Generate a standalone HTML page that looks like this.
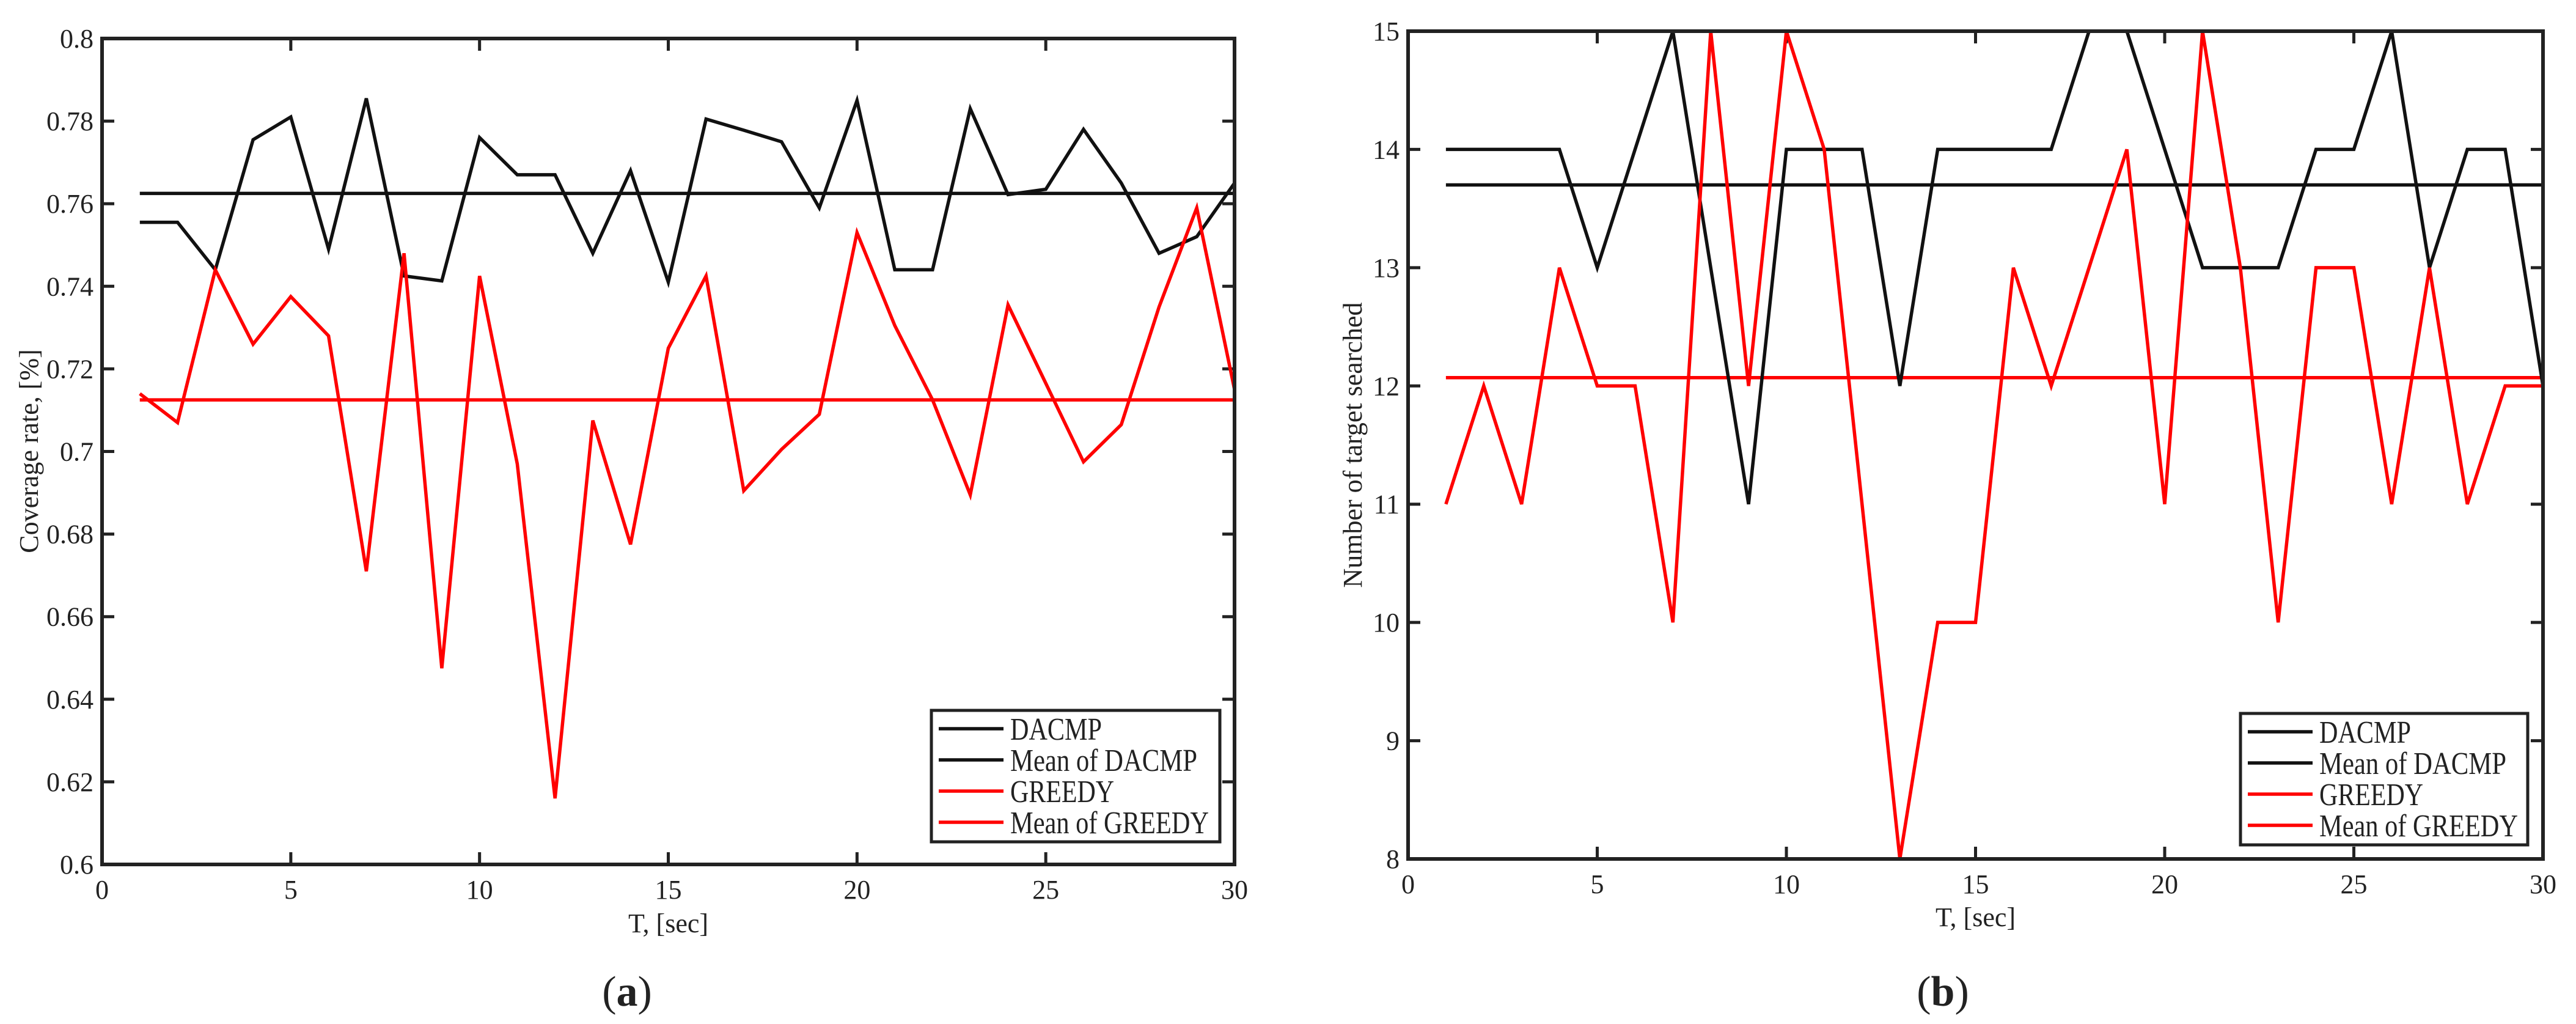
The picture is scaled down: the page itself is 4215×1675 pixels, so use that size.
<!DOCTYPE html>
<html><head><meta charset="utf-8"><style>
html,body{margin:0;padding:0;background:#fff;}
svg{display:block;}
text{font-family:"Liberation Serif",serif;fill:#222;}
</style></head><body>
<svg id="fig" width="4215" height="1675" viewBox="0 0 4215 1675" xmlns="http://www.w3.org/2000/svg"></svg>
<script>
const tValues = [1,2,3,4,5,6,7,8,9,10,11,12,13,14,15,16,17,18,19,20,21,22,23,24,25,26,27,28,29,30];
const coverageDacmp = [0.7555,0.7555,0.744,0.7755,0.781,0.749,0.7855,0.7425,0.7413,0.776,0.767,0.767,0.748,0.768,0.741,0.7805,0.7778,0.775,0.759,0.785,0.744,0.744,0.783,0.7622,0.7635,0.778,0.765,0.748,0.752,0.765];
const coverageGreedy = [0.714,0.707,0.744,0.726,0.7375,0.728,0.671,0.748,0.6475,0.7425,0.697,0.616,0.7075,0.6775,0.725,0.7425,0.6905,0.7005,0.709,0.753,0.7305,0.7125,0.6895,0.7355,0.7165,0.6975,0.7065,0.735,0.759,0.715];
const coverageMeanDacmp = 0.7625;
const coverageMeanGreedy = 0.7125;
const targetsDacmp = [14,14,14,14,13,14,15,13,11,14,14,14,12,14,14,14,14,15,15,14,13,13,13,14,14,15,13,14,14,12];
const targetsGreedy = [11,12,11,13,12,12,10,15,12,15,14,11,8,10,10,13,12,13,14,11,15,13,10,13,13,11,13,11,12,12];
const targetsMeanDacmp = 13.7;
const targetsMeanGreedy = 12.07;
const xTicks = [0,5,10,15,20,25,30];
const coverageTicks = [0.6,0.62,0.64,0.66,0.68,0.7,0.72,0.74,0.76,0.78,0.8];
const coverageTickLabels = ["0.6","0.62","0.64","0.66","0.68","0.7","0.72","0.74","0.76","0.78","0.8"];
const targetTicks = [8,9,10,11,12,13,14,15];
const legendLabels = ["DACMP","Mean of DACMP","GREEDY","Mean of GREEDY"];

const NS = "http://www.w3.org/2000/svg";
const svg = document.getElementById('fig');
function el(tag, attrs, parent){
  const e = document.createElementNS(NS, tag);
  for (const k in attrs) e.setAttribute(k, attrs[k]);
  (parent||svg).appendChild(e);
  return e;
}

function drawPanel(cfg){
  const g = el('g', {});
  
  
  const L=cfg.L,R=cfg.R,T=cfg.T,B=cfg.B;
  const sx = v => L + (v - 0)/(30 - 0)*(R-L);
  const sy = v => B - (v - cfg.ymin)/(cfg.ymax - cfg.ymin)*(B-T);

  xTicks.forEach(v=>{
    const x = sx(v);
    const t1 = el('line',{x1:x,y1:B,x2:x,y2:B-20,stroke:'#222','stroke-width':5},g);
    
    
    el('line',{x1:x,y1:T,x2:x,y2:T+20,stroke:'#222','stroke-width':5},g);
    const lb = el('text',{x:x,y:B+56,'font-size':44,'text-anchor':'middle'},g);
    lb.textContent = String(v);
    
    
  });
  cfg.ticks.forEach((v,i)=>{
    const y = sy(v);
    const t1 = el('line',{x1:L,y1:y,x2:L+20,y2:y,stroke:'#222','stroke-width':5},g);
    
    
    el('line',{x1:R,y1:y,x2:R-20,y2:y,stroke:'#222','stroke-width':5},g);
    const lb = el('text',{x:L-14,y:y+15,'font-size':44,'text-anchor':'end'},g);
    lb.textContent = cfg.tickLabels[i];
    
    
  });

  function series(vals, color, nm){
    const pts = vals.map((v,i)=> sx(tValues[i]).toFixed(1)+','+sy(v).toFixed(1)).join(' ');
    const p = el('polyline',{points:pts,fill:'none',stroke:color,'stroke-width':5.5,'stroke-linejoin':'miter'},g);
    
    
  }
  function meanLine(v,color,nm){
    const p = el('line',{x1:sx(tValues[0]),y1:sy(v),x2:sx(tValues[tValues.length-1]),y2:sy(v),stroke:color,'stroke-width':5.5},g);
    
    
  }
  meanLine(cfg.meanD,'#111','mean-dacmp-line');
  meanLine(cfg.meanG,'#f00','mean-greedy-line');
  series(cfg.dacmp,'#111','dacmp-line');
  series(cfg.greedy,'#f00','greedy-line');

  const fr = el('rect',{x:L,y:T,width:R-L,height:B-T,fill:'none',stroke:'#222','stroke-width':6},g);
  
  

  const lg = el('g',{},g);
  
  
  el('rect',{x:cfg.lx,y:cfg.ly,width:cfg.lw,height:215,fill:'#fff',stroke:'#222','stroke-width':5},lg);
  const colors = ['#111','#111','#f00','#f00'];
  legendLabels.forEach((s,i)=>{
    const y = cfg.ly + 30 + i*51;
    const e = el('g',{},lg);
    
    
    el('line',{x1:cfg.lx+12,y1:y,x2:cfg.lx+118,y2:y,stroke:colors[i],'stroke-width':5.5},e);
    const t = el('text',{x:cfg.lx+129,y:y+18,'font-size':52,textLength:[150,306,170,325][i],lengthAdjust:'spacingAndGlyphs'},e);
    t.textContent = s;
  });

  const xt = el('text',{x:(L+R)/2,y:cfg.xtY,'font-size':44,'text-anchor':'middle'},g);
  xt.textContent = 'T, [sec]';
  
  
  const yt = el('text',{x:0,y:0,'font-size':44,'text-anchor':'middle',transform:`translate(${cfg.ytX},${cfg.ytY}) rotate(-90)`},g);
  yt.textContent = cfg.ytitle;
  
  

  const cap = el('text',{x:cfg.capX,y:1645,'font-size':70,'text-anchor':'middle'},g);
  cap.innerHTML = '(<tspan font-weight="bold">'+cfg.cap+'</tspan>)';
  
  
}

drawPanel({name:'coverage-chart',L:167,R:2020,T:63,B:1414,ymin:0.6,ymax:0.8,
  ticks:coverageTicks,tickLabels:coverageTickLabels,dacmp:coverageDacmp,greedy:coverageGreedy,
  meanD:coverageMeanDacmp,meanG:coverageMeanGreedy,lx:1524,ly:1162,lw:472,
  xtY:1525,ytX:62,ytY:738,ytitle:'Coverage rate, [%]',capX:1026,cap:'a'});
drawPanel({name:'targets-chart',L:2304,R:4161,T:51,B:1405,ymin:8,ymax:15,
  ticks:targetTicks,tickLabels:targetTicks.map(String),dacmp:targetsDacmp,greedy:targetsGreedy,
  meanD:targetsMeanDacmp,meanG:targetsMeanGreedy,lx:3666,ly:1167,lw:470,
  xtY:1515,ytX:2228,ytY:728,ytitle:'Number of target searched',capX:3179,cap:'b'});
</script>
</body></html>
